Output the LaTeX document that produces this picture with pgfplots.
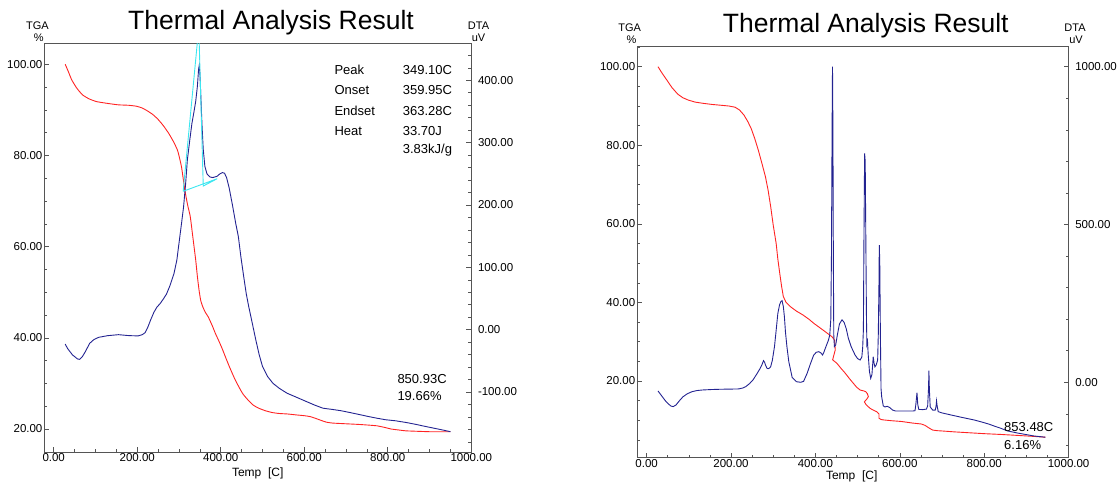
\documentclass[border=0pt]{standalone}
\usepackage{pgfplots}
\pgfplotsset{compat=1.18}
\usepackage{fontspec}
\setmainfont{Liberation Sans}
\definecolor{tgared}{RGB}{255,35,35}
\definecolor{dtablue}{RGB}{35,35,145}
\definecolor{cyanl}{RGB}{60,230,240}
\definecolor{axgray}{RGB}{85,85,85}
\pgfplotsset{
  thermal/.style={
    scale only axis, anchor=south west,
    axis line style={draw=axgray, line width=0.8pt},
    tick style={draw=axgray, line width=0.6pt},
    tick align=inside, major tick length=5pt, minor tick length=3pt,
    ticklabel style={font=\fontsize{11.5}{13}\selectfont, color=black},
    scaled ticks=false,
    /pgf/number format/fixed, /pgf/number format/fixed zerofill,
    /pgf/number format/precision=2, /pgf/number format/1000 sep={},
    /pgf/number format/assume math mode=true,
    xmin=-23, xmax=1000,
  },
  tgaaxis/.style={thermal,
    xtick={0,200,...,1000}, minor xtick={50,100,...,950},
    xtick pos=bottom, ytick pos=left,
    xticklabel style={anchor=base, yshift=-9.5pt},
    yticklabel style={anchor=east, inner sep=0pt, xshift=-1.5pt},
  },
  dtaaxis/.style={thermal,
    axis x line=none, axis y line*=right,
    yticklabel style={anchor=west, inner sep=0pt, xshift=6.5pt},
  },
}
\begin{document}
\begin{tikzpicture}[x=1pt,y=1pt]
\useasboundingbox (0,0) rectangle (1118,482);
% ---------------- left panel ----------------
\begin{axis}[tgaaxis, at={(44.1pt,29.7pt)}, width=427.2pt, height=409pt,
  ymin=14.89, ymax=104.6, ytick={20,40,...,100}, minor ytick={15,20,...,100}]
\addplot[tgared, line width=0.9pt, smooth, tension=0.3] coordinates {
(27.5,100) (35,98.4) (43,96.6) (55,94.8) (68.8,93.3) (85,92.4) (103,91.8) (130,91.4)
(155,91.1) (180,91.0) (198,90.8) (212,90.4) (224,89.8) (237,89.0) (249,88.0) (262,86.6)
(275,84.9) (287,83.0) (297,81.0) (306,77.5) (314,72.4) (321,69.0) (327,66.6) (334,61.5)
(340,57.1) (344,53.5) (348,50.5) (352,48.2) (357,46.8) (363,45.6) (370,44.6) (380,42.6)
(387,41.0) (396,39.2) (404,37.5) (413,35.4) (421,33.6) (432,31.3) (443,29.3) (453,27.7)
(464,26.5) (477,25.3) (490,24.6) (507,24.0) (524,23.6) (540,23.4) (559,23.3) (580,23.1)
(602,22.9) (615,22.7) (628,22.3) (640,21.9) (653,21.5) (668,21.3) (688,21.2) (710,21.1)
(731,21.0) (755,20.85) (774,20.7) (790,20.4) (808,20.0) (825,19.8) (843,19.6) (870,19.5)
(903,19.4) (950,19.4)};
\end{axis}
\begin{axis}[dtaaxis, at={(44.1pt,29.7pt)}, width=427.2pt, height=409pt,
  ymin=-196.7, ymax=459.4, ytick={-100,0,...,400}, minor ytick={-180,-160,...,440}]
\addplot[dtablue, line width=0.9pt] coordinates {
(27.5,-23) (33,-30) (38.7,-35) (45,-40.5) (51.6,-44) (57,-47) (62,-47.6) (68.8,-43)
(76,-35) (86,-22) (96,-16) (107.5,-12.3) (129,-9.6) (155,-8) (180,-9.5) (202,-10)
(212,-8) (219,-4.8) (226,5) (232,15.5) (240,28) (247,36) (255,42) (262,48.7) (270,57)
(278,70) (288,90) (295,112) (301,144) (306,170) (311,197) (316,235) (320,272) (326,305)
(331,331) (336,350) (340,366) (344,390) (347,418) (348.5,424) (350,412) (352,380)
(355,330) (358,290) (362,262) (367,250) (374,245) (381,244) (391,246) (398,250)
(404,252) (409,251) (414,244) (420,228) (428,200) (436,170) (442,150) (448,118)
(455,85) (461,58) (467,37) (475,12) (484,-16.6) (492,-40) (500,-59) (512,-75) (525,-86)
(540,-94) (559,-102) (580,-108) (602,-114.4) (625,-121) (645,-126) (668,-128) (688,-130)
(710,-133) (731,-136) (755,-139.5) (774,-142) (795,-144.5) (817,-146) (845,-149)
(868,-152) (885,-154.5) (903,-157) (925,-160) (950,-163.6)};
\addplot[cyanl, line width=0.9pt] coordinates {
(310,222) (347.4,485) (358.1,230.4) (391.6,242.2) (310,222)};
\end{axis}
% ---------------- right panel ----------------
\begin{axis}[tgaaxis, at={(636.9pt,24.3pt)}, width=431.7pt, height=411pt,
  ymin=0.48, ymax=105.1, ytick={20,40,...,100}, minor ytick={5,10,...,105}]
\addplot[tgared, line width=0.9pt] coordinates {
(27,100) (37,98.3) (48,96.6) (60,94.7) (74,93) (86,92.1) (99,91.5) (115,91.0) (133,90.7)
(155,90.4) (175.6,90.2) (195,90.0) (209.5,89.7) (220,89.0) (230.7,87.7) (240,86.0)
(247.7,84.3) (256,81.8) (264.6,78.8) (273,75.5) (281.6,72) (288,68.5) (294,64.4)
(300,59.7) (307,55) (311,51) (315.5,47.4) (320,44) (324,41.5) (330,40.1) (341,38.9)
(355,37.8) (370.6,36.8) (385,35.7) (396,34.7) (410,33.6) (421.5,32.7) (430,32.0)
(439,31.3) (445.5,30.4) (447,27.9) (440.8,25.4) (451,24.5) (460,23.3) (470.6,22.0)
(480,20.7) (490,19.4) (498,18.4) (506,17.7) (514,17.5) (519,17.3) (523,16.8) (525.5,16.0)
(521,15.3) (516,14.7) (520,14.0) (529.4,13.05) (537,12.6) (545,12.2) (550.6,11.6)
(550.6,10.5) (556,10.2) (561,10.1) (580,9.9) (604,9.7) (630,9.3) (651,9.06) (660,8.7)
(667,8.2) (673,7.8) (678.6,7.5) (690,7.35) (698,7.3) (730,7.05) (761,6.85) (800,6.6)
(839,6.4) (880,6.15) (910,5.95) (945,5.7)};
\end{axis}
\begin{axis}[dtaaxis, at={(636.9pt,24.3pt)}, width=431.7pt, height=411pt,
  ymin=-238.9, ymax=1063.4, ytick={0,500,1000}, minor ytick={-200,-100,...,1000}]
\addplot[dtablue, line width=0.9pt] coordinates {
(27,-27.5) (34,-40) (40,-50.7) (46,-61) (52.6,-69.7) (58,-75.5) (63,-77) (69.5,-72)
(78,-58) (86.5,-45.4) (97,-36) (107.7,-29.6) (120,-26) (133,-24.3) (155,-22.8)
(175.6,-22) (200,-21.5) (218,-21) (228,-18) (235,-13.7) (244,-4) (252,7.4) (260,24)
(269,44) (274,58) (277,68.6) (279.5,64) (281.6,55) (285,45) (288,43) (291,45)
(294,49.6) (298,70) (303,113) (307,165) (311,218.6) (315,245) (318,255.5) (321,258.7)
(324,240) (326.5,208) (329,160) (332.5,113) (337,65) (345,15) (355,2) (365,0) (372,3)
(380.4,28.5) (388,58) (396,86.5) (402,95) (408,97) (413,93) (417,86.5) (420,95)
(423.5,108) (427,120) (431,134) (434,150) (436.5,200) (438,400) (439.5,800)
(440.5,1000) (441.5,800) (442.5,400) (443.5,150) (445,113) (448,118) (452,150)
(457,185) (463,198) (468,190) (473,170) (478,140) (485,112) (494,86.5) (500,75)
(506,70.7) (510,80) (512,110) (513.7,166) (515,450) (516.6,725) (518,700) (519.5,450)
(521,200) (522,120) (523.5,129) (525,90) (528,35) (531,12.6) (534,25) (537,81) (539,60)
(541,49) (544,55) (547.5,70.7) (549,150) (550.5,300) (551.4,435) (552.5,380) (554,150)
(555.5,-20) (557,-45.6) (560.8,-75) (565,-78) (570,-76) (576,-80) (583,-88) (590,-91)
(610,-91) (630,-91) (636,-90) (638,-70) (640.7,-33) (642.5,-70) (645,-86) (655,-86.5)
(663,-85) (666,-75) (668,-20) (669,37) (670,-20) (672,-78) (678,-88) (684,-88)
(686,-75) (687,-59) (688.5,-75) (691,-93) (700,-97) (721.6,-103.6) (750,-112)
(775,-119) (792,-125) (810,-132) (823.5,-138.5) (840,-146) (855,-154) (880,-161)
(917.6,-170) (945,-174)};
\end{axis}
% ---------------- texts ----------------
\begin{scope}[every node/.style={inner sep=0pt}]
\node[anchor=base, font=\fontsize{26.5}{30}\selectfont] at (271,482-30) {Thermal Analysis Result};
\node[anchor=base, font=\fontsize{26.5}{30}\selectfont] at (865.8,482-32.3) {Thermal Analysis Result};
\node[anchor=base, font=\fontsize{11}{13}\selectfont] at (37.5,482-29.3) {TGA};
\node[anchor=base, font=\fontsize{11}{13}\selectfont] at (38.8,482-41.7) {\%};
\node[anchor=base, font=\fontsize{11}{13}\selectfont] at (478.5,482-29.3) {DTA};
\node[anchor=base, font=\fontsize{11}{13}\selectfont] at (478.5,482-41.7) {uV};
\node[anchor=base, font=\fontsize{11}{13}\selectfont] at (629.7,482-31.7) {TGA};
\node[anchor=base, font=\fontsize{11}{13}\selectfont] at (631.5,482-43.3) {\%};
\node[anchor=base, font=\fontsize{11}{13}\selectfont] at (1075,482-31.7) {DTA};
\node[anchor=base, font=\fontsize{11}{13}\selectfont] at (1076,482-43.3) {uV};
\node[anchor=base, font=\fontsize{12}{14}\selectfont] at (257.7,482-476) {Temp\ \ [C]};
\node[anchor=base, font=\fontsize{12}{14}\selectfont] at (851.7,482-479) {Temp\ \ [C]};
\node[anchor=base west, font=\fontsize{13}{15}\selectfont] at (334.3,482-75) {Peak};
\node[anchor=base west, font=\fontsize{13}{15}\selectfont] at (334.3,482-95) {Onset};
\node[anchor=base west, font=\fontsize{13}{15}\selectfont] at (334.3,482-115.7) {Endset};
\node[anchor=base west, font=\fontsize{13}{15}\selectfont] at (334.3,482-135.7) {Heat};
\node[anchor=base west, font=\fontsize{13}{15}\selectfont] at (402.7,482-75) {349.10C};
\node[anchor=base west, font=\fontsize{13}{15}\selectfont] at (402.7,482-95) {359.95C};
\node[anchor=base west, font=\fontsize{13}{15}\selectfont] at (402.7,482-115.7) {363.28C};
\node[anchor=base west, font=\fontsize{13}{15}\selectfont] at (402.7,482-135.7) {33.70J};
\node[anchor=base west, font=\fontsize{13}{15}\selectfont] at (402.7,482-153.3) {3.83kJ/g};
\node[anchor=base west, font=\fontsize{13}{15}\selectfont] at (397.3,482-383.3) {850.93C};
\node[anchor=base west, font=\fontsize{13}{15}\selectfont] at (397.3,482-400) {19.66\%};
\node[anchor=base west, font=\fontsize{13}{15}\selectfont] at (1004,482-431) {853.48C};
\node[anchor=base west, font=\fontsize{13}{15}\selectfont] at (1004,482-449) {6.16\%};
\end{scope}
\end{tikzpicture}
\end{document}
